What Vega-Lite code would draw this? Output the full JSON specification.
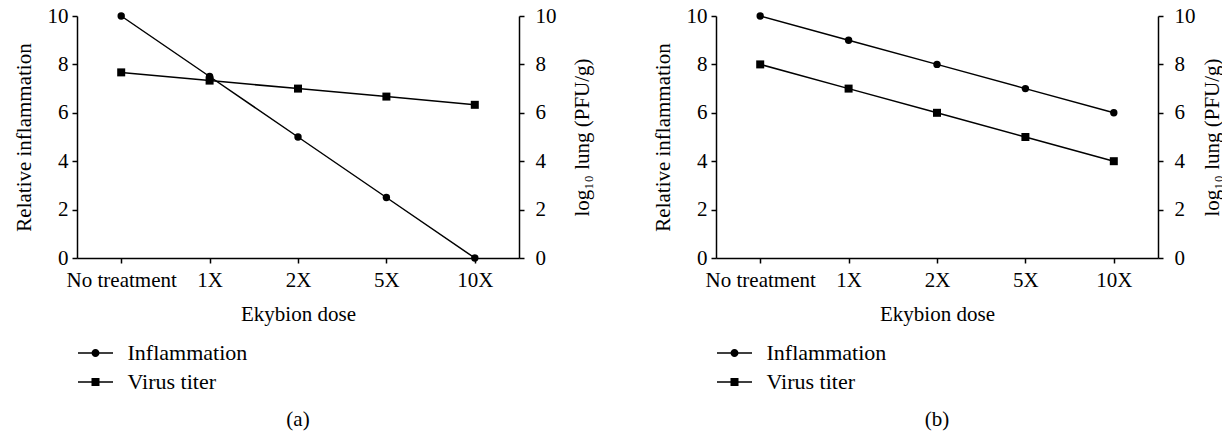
{
  "$schema": "https://vega.github.io/schema/vega-lite/v6.json",
  "background": "white",
  "padding": {"left": 13, "top": 5, "right": 0, "bottom": 5},
  "config": {
    "font": "Liberation Serif",
    "view": {"stroke": null},
    "axis": {
      "grid": false,
      "domainColor": "black",
      "domainWidth": 1.5,
      "tickColor": "black",
      "tickWidth": 1.5,
      "tickSize": 5,
      "labelColor": "black",
      "titleColor": "black",
      "labelFont": "Liberation Serif",
      "titleFont": "Liberation Serif",
      "labelFontSize": 21,
      "titleFontSize": 21,
      "titleFontWeight": "normal"
    },
    "legend": {"labelFont": "Liberation Serif", "labelFontSize": 22, "labelColor": "black"},
    "title": {"font": "Liberation Serif", "fontSize": 21, "fontWeight": "normal", "color": "black"}
  },
  "data": {
    "values": [
      {"panel": "a", "dose": "No treatment", "series": "Inflammation", "value": 10},
      {"panel": "a", "dose": "1X", "series": "Inflammation", "value": 7.5},
      {"panel": "a", "dose": "2X", "series": "Inflammation", "value": 5},
      {"panel": "a", "dose": "5X", "series": "Inflammation", "value": 2.5},
      {"panel": "a", "dose": "10X", "series": "Inflammation", "value": 0},
      {"panel": "a", "dose": "No treatment", "series": "Virus titer", "value": 7.67},
      {"panel": "a", "dose": "1X", "series": "Virus titer", "value": 7.33},
      {"panel": "a", "dose": "2X", "series": "Virus titer", "value": 7.0},
      {"panel": "a", "dose": "5X", "series": "Virus titer", "value": 6.67},
      {"panel": "a", "dose": "10X", "series": "Virus titer", "value": 6.33},
      {"panel": "b", "dose": "No treatment", "series": "Inflammation", "value": 10},
      {"panel": "b", "dose": "1X", "series": "Inflammation", "value": 9},
      {"panel": "b", "dose": "2X", "series": "Inflammation", "value": 8},
      {"panel": "b", "dose": "5X", "series": "Inflammation", "value": 7},
      {"panel": "b", "dose": "10X", "series": "Inflammation", "value": 6},
      {"panel": "b", "dose": "No treatment", "series": "Virus titer", "value": 8},
      {"panel": "b", "dose": "1X", "series": "Virus titer", "value": 7},
      {"panel": "b", "dose": "2X", "series": "Virus titer", "value": 6},
      {"panel": "b", "dose": "5X", "series": "Virus titer", "value": 5},
      {"panel": "b", "dose": "10X", "series": "Virus titer", "value": 4}
    ]
  },
  "spacing": 60,
  "resolve": {"scale": {"shape": "independent"}, "legend": {"shape": "independent"}},
  "hconcat": [
    {
      "title": {"text": "(a)", "orient": "bottom", "anchor": "middle", "frame": "group", "offset": 16},
      "width": 442,
      "height": 242,
      "transform": [{"filter": "datum.panel == 'a'"}],
      "encoding": {
        "x": {
          "field": "dose", "type": "ordinal",
          "sort": ["No treatment", "1X", "2X", "5X", "10X"],
          "scale": {"type": "point", "padding": 0.5},
          "axis": {"title": "Ekybion dose", "labelAngle": 0, "labelPadding": 6, "titlePadding": 13}
        }
      },
      "layer": [
        {
          "transform": [{"filter": "datum.series == 'Inflammation'"}],
          "encoding": {
            "y": {"field": "value", "type": "quantitative", "scale": {"domain": [0, 10], "nice": false},
              "axis": {"title": "Relative inflammation", "values": [0, 2, 4, 6, 8, 10], "labelPadding": 4, "titlePadding": 13}}
          },
          "layer": [
            {"mark": {"type": "line", "color": "black", "strokeWidth": 1.5}},
            {"mark": {"type": "point", "shape": "circle", "filled": true, "color": "black", "opacity": 1, "size": 55}}
          ]
        },
        {
          "transform": [{"filter": "datum.series == 'Virus titer'"}],
          "encoding": {
            "y": {"field": "value", "type": "quantitative", "scale": {"domain": [0, 10], "nice": false},
              "axis": {"title": "log₁₀ lung (PFU/g)", "orient": "right", "titleAngle": 270, "titleBaseline": "top", "values": [0, 2, 4, 6, 8, 10], "labelPadding": 11, "titlePadding": 15}}
          },
          "layer": [
            {"mark": {"type": "line", "color": "black", "strokeWidth": 1.5}},
            {"mark": {"type": "point", "shape": "square", "filled": true, "color": "black", "opacity": 1, "size": 64}}
          ]
        },
        {
          "mark": {"type": "point", "filled": true, "color": "black", "opacity": 0},
          "encoding": {
            "shape": {
              "field": "series", "type": "nominal",
              "scale": {"domain": ["Inflammation", "Virus titer"], "range": ["M-1.75,-0.075H-0.3V0.075H-1.75ZM0.3,-0.075H1.75V0.075H0.3ZM0.4,0A0.4,0.4,0,1,1,-0.4,0A0.4,0.4,0,1,1,0.4,0Z", "M-1.75,-0.075H-0.3V0.075H-1.75ZM0.3,-0.075H1.75V0.075H0.3ZM-0.4,-0.4H0.4V0.4H-0.4Z"]},
              "legend": {
                "title": null, "orient": "none", "legendX": 7.5, "legendY": 326, "direction": "vertical",
                "padding": 0, "symbolSize": 400, "labelOffset": 21, "rowPadding": 7,
                "symbolFillColor": "black", "symbolStrokeColor": "black", "symbolStrokeWidth": 0, "symbolOpacity": 1,
                "encode": {"symbols": {"update": {"opacity": {"value": 1}, "fill": {"value": "black"}}}}
              }
            }
          }
        }
      ],
      "resolve": {"scale": {"y": "independent"}}
    },
    {
      "title": {"text": "(b)", "orient": "bottom", "anchor": "middle", "frame": "group", "offset": 16},
      "width": 442,
      "height": 242,
      "transform": [{"filter": "datum.panel == 'b'"}],
      "encoding": {
        "x": {
          "field": "dose", "type": "ordinal",
          "sort": ["No treatment", "1X", "2X", "5X", "10X"],
          "scale": {"type": "point", "padding": 0.5},
          "axis": {"title": "Ekybion dose", "labelAngle": 0, "labelPadding": 6, "titlePadding": 13}
        }
      },
      "layer": [
        {
          "transform": [{"filter": "datum.series == 'Inflammation'"}],
          "encoding": {
            "y": {"field": "value", "type": "quantitative", "scale": {"domain": [0, 10], "nice": false},
              "axis": {"title": "Relative inflammation", "values": [0, 2, 4, 6, 8, 10], "labelPadding": 4, "titlePadding": 13}}
          },
          "layer": [
            {"mark": {"type": "line", "color": "black", "strokeWidth": 1.5}},
            {"mark": {"type": "point", "shape": "circle", "filled": true, "color": "black", "opacity": 1, "size": 55}}
          ]
        },
        {
          "transform": [{"filter": "datum.series == 'Virus titer'"}],
          "encoding": {
            "y": {"field": "value", "type": "quantitative", "scale": {"domain": [0, 10], "nice": false},
              "axis": {"title": "log₁₀ lung (PFU/g)", "orient": "right", "titleAngle": 270, "titleBaseline": "top", "values": [0, 2, 4, 6, 8, 10], "labelPadding": 11, "titlePadding": 6}}
          },
          "layer": [
            {"mark": {"type": "line", "color": "black", "strokeWidth": 1.5}},
            {"mark": {"type": "point", "shape": "square", "filled": true, "color": "black", "opacity": 1, "size": 64}}
          ]
        },
        {
          "mark": {"type": "point", "filled": true, "color": "black", "opacity": 0},
          "encoding": {
            "shape": {
              "field": "series", "type": "nominal",
              "scale": {"domain": ["Inflammation", "Virus titer"], "range": ["M-1.75,-0.075H-0.3V0.075H-1.75ZM0.3,-0.075H1.75V0.075H0.3ZM0.4,0A0.4,0.4,0,1,1,-0.4,0A0.4,0.4,0,1,1,0.4,0Z", "M-1.75,-0.075H-0.3V0.075H-1.75ZM0.3,-0.075H1.75V0.075H0.3ZM-0.4,-0.4H0.4V0.4H-0.4Z"]},
              "legend": {
                "title": null, "orient": "none", "legendX": 7.5, "legendY": 326, "direction": "vertical",
                "padding": 0, "symbolSize": 400, "labelOffset": 21, "rowPadding": 7,
                "symbolFillColor": "black", "symbolStrokeColor": "black", "symbolStrokeWidth": 0, "symbolOpacity": 1,
                "encode": {"symbols": {"update": {"opacity": {"value": 1}, "fill": {"value": "black"}}}}
              }
            }
          }
        }
      ],
      "resolve": {"scale": {"y": "independent"}}
    }
  ]
}
